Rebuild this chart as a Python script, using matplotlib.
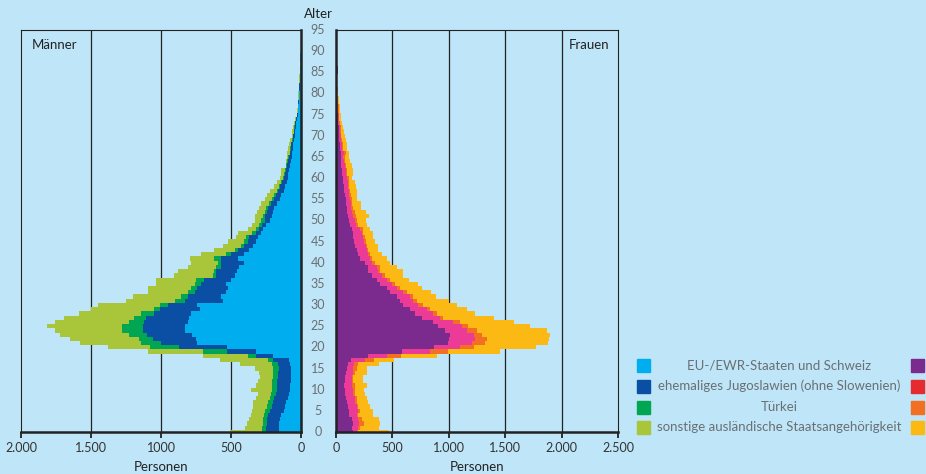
import numpy as np
import matplotlib
matplotlib.use("Agg")
import matplotlib.pyplot as plt
from matplotlib.patches import Rectangle

plt.rcParams['font.family'] = ['Lato', 'DejaVu Sans']

# Altersjahre 0..89
ages = np.arange(90)

# Männer: EU/EWR+Schweiz, ehem. Jugoslawien, Türkei, sonstige
m_eu = [160, 160, 155, 150, 140, 125, 115, 105, 95, 85,
        80, 80, 75, 70, 70, 75, 80, 85, 200, 320,
        530, 740, 750, 780, 830, 830, 810, 800, 785, 725,
        740, 560, 570, 535, 525, 535, 500, 475, 455, 440,
        405, 450, 405, 370, 345, 320, 305, 285, 275, 250,
        225, 210, 200, 190, 170, 150, 140, 125, 115, 100,
        90, 90, 85, 80, 75, 66, 62, 59, 55, 50,
        43, 40, 36, 33, 28, 21, 20, 18, 15, 13,
        12, 10, 9, 8, 7, 6, 4, 3, 8, 5]
m_yu = [90, 90, 90, 90, 95, 100, 95, 95, 95, 95,
        95, 90, 95, 95, 95, 85, 85, 115, 120, 210,
        345, 260, 310, 320, 295, 300, 310, 305, 265, 285,
        210, 270, 240, 225, 215, 180, 190, 130, 150, 130,
        165, 125, 95, 80, 60, 60, 65, 35, 25, 30,
        35, 45, 45, 45, 45, 45, 40, 40, 35, 35,
        30, 25, 23, 20, 18, 19, 16, 13, 13, 10,
        12, 10, 9, 7, 6, 5, 4, 3, 3, 3,
        2, 2, 2, 1, 1, 1, 1, 0, 0, 0]
m_tr = [30, 30, 30, 30, 30, 30, 35, 35, 35, 35,
        35, 35, 35, 35, 35, 40, 40, 35, 60, 170,
        205, 140, 100, 130, 155, 150, 110, 90, 95, 40,
        60, 70, 50, 50, 45, 45, 60, 25, 15, 35,
        25, 45, 35, 25, 25, 25, 20, 30, 20, 20,
        25, 15, 15, 15, 15, 10, 10, 10, 10, 10,
        10, 5, 5, 5, 5, 5, 4, 4, 4, 3,
        3, 3, 3, 2, 2, 2, 1, 1, 1, 1,
        1, 1, 1, 1, 1, 1, 0, 0, 0, 0]
m_so = [230, 120, 110, 105, 95, 95, 100, 105, 95, 95,
        150, 115, 100, 90, 100, 130, 230, 345, 320, 390,
        300, 440, 490, 490, 480, 535, 530, 495, 440, 450,
        440, 350, 340, 285, 310, 275, 285, 275, 260, 205,
        190, 170, 180, 145, 130, 120, 75, 100, 60, 50,
        45, 60, 55, 50, 55, 55, 50, 50, 30, 30,
        20, 25, 32, 5, 10, 12, 18, 19, 11, 17,
        8, 9, 7, 6, 4, 3, 3, 2, 3, 4,
        6, 3, 2, 2, 2, 2, 1, 1, 0, 0]

# Frauen: gleiche Gruppen
f_eu = [148, 139, 148, 139, 118, 118, 109, 94, 88, 83,
        80, 71, 80, 80, 88, 94, 109, 135, 282, 585,
        870, 990, 1005, 1015, 970, 907, 863, 759, 700, 656,
        597, 567, 538, 479, 449, 390, 360, 316, 286, 286,
        257, 213, 198, 183, 168, 159, 153, 148, 139, 124,
        115, 106, 100, 95, 89, 86, 80, 71, 71, 65,
        65, 56, 53, 47, 47, 41, 41, 36, 36, 30,
        30, 24, 24, 18, 18, 18, 12, 12, 9, 9,
        8, 10, 6, 5, 4, 18, 15, 0, 0, 0]
f_yu = [35, 59, 59, 59, 65, 80, 74, 74, 80, 70,
        73, 68, 59, 59, 60, 59, 50, 125, 170, 251,
        230, 220, 223, 205, 195, 207, 177, 163, 163, 148,
        133, 118, 118, 118, 89, 103, 89, 89, 89, 80,
        59, 88, 88, 89, 98, 89, 89, 79, 73, 50,
        51, 48, 45, 41, 41, 38, 35, 44, 35, 41,
        35, 33, 33, 30, 24, 24, 30, 20, 20, 17,
        11, 12, 12, 9, 9, 6, 9, 6, 6, 3,
        2, 2, 2, 1, 1, 0, 0, 0, 0, 0]
f_tr = [15, 14, 41, 29, 15, 14, 15, 15, 15, 15,
        15, 29, 14, 14, 20, 30, 39, 75, 126, 154,
        125, 115, 110, 70, 85, 59, 59, 29, 29, 29,
        44, 30, 29, 29, 29, 30, 30, 29, 15, 24,
        29, 15, 15, 14, 12, 18, 15, 15, 30, 21,
        23, 20, 21, 18, 15, 21, 15, 9, 12, 9,
        12, 11, 9, 9, 12, 12, 18, 9, 9, 6,
        6, 5, 5, 9, 3, 6, 6, 6, 3, 3,
        2, 2, 1, 1, 1, 0, 0, 0, 0, 0]
f_so = [275, 172, 142, 157, 133, 119, 103, 103, 89, 89,
        80, 104, 83, 89, 104, 95, 186, 175, 317, 460,
        550, 550, 552, 610, 620, 547, 480, 449, 340, 325,
        296, 285, 205, 214, 193, 202, 171, 163, 207, 148,
        134, 133, 104, 89, 97, 79, 74, 89, 59, 83,
        74, 119, 97, 65, 80, 44, 53, 59, 56, 51,
        33, 48, 53, 59, 41, 38, 26, 35, 30, 36,
        30, 30, 18, 20, 17, 11, 9, 12, 9, 9,
        2, 2, 3, 3, 2, 0, 0, 0, 0, 0]

legend_labels = ["EU-/EWR-Staaten und Schweiz",
                 "ehemaliges Jugoslawien (ohne Slowenien)",
                 "Türkei",
                 "sonstige ausländische Staatsangehörigkeit"]
m_colors = ["#00aeef", "#0a4fa3", "#00a651", "#a9c63a"]
f_colors = ["#7b2a8e", "#ec3b96", "#f36f21", "#fdb913"]
f_leg_colors = ["#7b2a8e", "#e52b2f", "#f36f21", "#fdb913"]

bg = "#bee6f8"
dark = "#222222"
grey = "#6a6f73"

fig = plt.figure(figsize=(9.26, 4.74), dpi=100, facecolor=bg)
ax_m = fig.add_axes([21/926, 42/474, 280/926, 402/474])
ax_f = fig.add_axes([336/926, 42/474, 282/926, 402/474])


def pyramid(ax, series, colors):
    left = np.zeros(len(ages))
    for vals, c in zip(series, colors):
        vals = np.array(vals, dtype=float)
        ax.barh(ages, vals, left=left, height=1.0, color=c,
                linewidth=0, zorder=2)
        left += vals


pyramid(ax_m, [m_eu, m_yu, m_tr, m_so], m_colors)
pyramid(ax_f, [f_eu, f_yu, f_tr, f_so], f_colors)

ax_m.set_xlim(2000, 0)
ax_f.set_xlim(0, 2500)
for ax in (ax_m, ax_f):
    ax.set_facecolor(bg)
    ax.set_ylim(0, 95)
    ax.set_yticks([])
    for s in ax.spines.values():
        s.set_color(dark)
        s.set_linewidth(0.8)
    ax.spines['bottom'].set_linewidth(1.8)
    ax.tick_params(axis='x', direction='out', length=4, width=1.3,
                   color=dark, labelsize=9, labelcolor="#333333", pad=3)
    ax.set_xlabel("Personen", fontsize=9.5, color=dark, labelpad=5)

ax_m.spines['right'].set_linewidth(1.8)
ax_f.spines['left'].set_linewidth(1.8)

ax_m.set_xticks([2000, 1500, 1000, 500, 0])
ax_m.set_xticklabels(["2.000", "1.500", "1000", "500", "0"])
ax_f.set_xticks([0, 500, 1000, 1500, 2000, 2500])
ax_f.set_xticklabels(["0", "500", "1.000", "1.500", "2.000", "2.500"])

for x in (500, 1000, 1500):
    ax_m.axvline(x, color=dark, lw=0.9, zorder=1)
for x in (500, 1000, 1500, 2000):
    ax_f.axvline(x, color=dark, lw=0.9, zorder=1)

ax_m.text(0.04, 0.962, "Männer", transform=ax_m.transAxes, fontsize=9.5,
          color=dark, ha='left', va='center')
ax_f.text(0.97, 0.962, "Frauen", transform=ax_f.transAxes, fontsize=9.5,
          color=dark, ha='right', va='center')

# Alter labels in the gap between panels
for a in range(0, 96, 5):
    y = ax_m.transData.transform((0, a))[1]
    fig.text(318/926, y / fig.dpi / 4.74, str(a), fontsize=9, color=grey,
             ha='center', va='center')
fig.text(318/926, 1 - 14/474, "Alter", fontsize=9.5, color=dark,
         ha='center', va='center')

# legend
rows_y = [365, 386, 407, 427]
for i, lab in enumerate(legend_labels):
    yc = 1 - rows_y[i]/474
    fig.patches.append(Rectangle((637/926, yc - 6.5/474), 13/926, 13/474,
                                 transform=fig.transFigure,
                                 color=m_colors[i]))
    fig.patches.append(Rectangle((911/926, yc - 6.5/474), 13/926, 13/474,
                                 transform=fig.transFigure,
                                 color=f_leg_colors[i]))
    fig.text(779/926, yc, lab, fontsize=9.5, color=grey,
             ha='center', va='center')

fig.savefig("out.png", dpi=100, facecolor=bg)
